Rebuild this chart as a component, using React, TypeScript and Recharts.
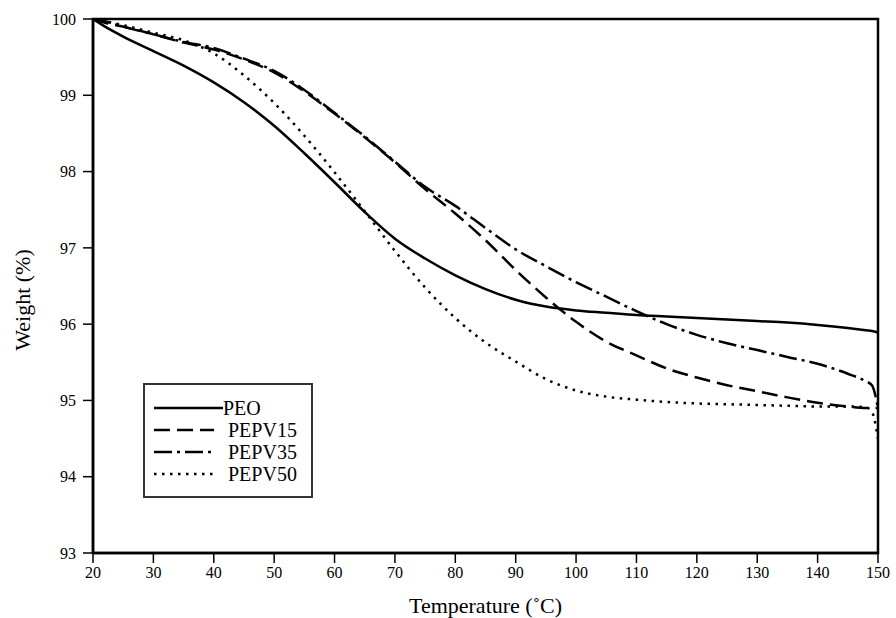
import React from 'react';
import { LineChart, Line, XAxis, YAxis, ReferenceArea, Legend } from 'recharts';

const temperatures = [20, 22, 25, 30, 35, 40, 45, 50, 55, 60, 65, 70, 75, 80, 85, 90, 95, 100, 105, 110, 115, 120, 125, 130, 135, 140, 145, 148, 149, 150];

const peo = [100, 99.9, 99.77, 99.58, 99.39, 99.17, 98.91, 98.6, 98.24, 97.86, 97.47, 97.12, 96.86, 96.64, 96.46, 96.32, 96.23, 96.18, 96.15, 96.12, 96.1, 96.08, 96.06, 96.04, 96.02, 95.99, 95.95, 95.92, 95.91, 95.89];
const pepv15 = [100, 99.95, 99.9, 99.8, 99.69, 99.6, 99.47, 99.3, 99.05, 98.76, 98.45, 98.12, 97.77, 97.45, 97.1, 96.71, 96.35, 96.03, 95.77, 95.59, 95.42, 95.3, 95.2, 95.12, 95.04, 94.97, 94.92, 94.9, 94.9, 94.9];
const pepv35 = [100, 99.97, 99.9, 99.8, 99.7, 99.62, 99.48, 99.32, 99.07, 98.77, 98.46, 98.13, 97.8, 97.55, 97.26, 96.98, 96.76, 96.55, 96.36, 96.17, 96.0, 95.86, 95.75, 95.66, 95.57, 95.48, 95.35, 95.25, 95.2, 94.9];
const pepv50 = [100, 99.97, 99.92, 99.82, 99.72, 99.55, 99.26, 98.9, 98.47, 97.99, 97.48, 96.96, 96.48, 96.08, 95.76, 95.51, 95.28, 95.13, 95.05, 95.01, 94.98, 94.96, 94.95, 94.94, 94.93, 94.92, 94.92, 94.91, 94.85, 94.5];

const seriesNames = ['PEO', 'PEPV15', 'PEPV35', 'PEPV50'];
const seriesValues = [peo, pepv15, pepv35, pepv50];
const dashPatterns = ['', '16 7', '18 5 3 5', '2.5 5.5'];

const xTicks = [20, 30, 40, 50, 60, 70, 80, 90, 100, 110, 120, 130, 140, 150];
const yTicks = [93, 94, 95, 96, 97, 98, 99, 100];

const xLabel = 'Temperature (\u02DAC)';
const yLabel = 'Weight (%)';

const data = temperatures.map((t, i) => {
  const row: Record<string, number> = { t };
  seriesNames.forEach((n, k) => {
    row[n] = seriesValues[k][i];
  });
  return row;
});

const FONT = '"Liberation Serif", "Times New Roman", serif';

const renderLegend = () => (
  <div
    style={{
      width: 170,
      height: 115,
      border: '2px solid #333',
      boxSizing: 'border-box',
      background: '#fff',
      fontFamily: FONT,
      fontSize: 20,
      color: '#000',
      paddingTop: 12,
      paddingLeft: 9,
    }}
  >
    {seriesNames.map((name, i) => (
      <div key={name} style={{ display: 'flex', alignItems: 'center', height: 22, lineHeight: '22px' }}>
        <svg width={i === 0 ? 69 : 60} height={6} style={{ display: 'block' }}>
          <line
            x1={0}
            x2={i === 0 ? 69 : 60}
            y1={3}
            y2={3}
            stroke="#000"
            strokeWidth={2.5}
            strokeDasharray={dashPatterns[i] || undefined}
          />
        </svg>
        <span style={{ marginLeft: i === 0 ? 0 : 14 }}>{name}</span>
      </div>
    ))}
  </div>
);

const YLabel = () => (
  <text
    x={0}
    y={0}
    transform="translate(30, 300) rotate(-90)"
    textAnchor="middle"
    fontFamily={FONT}
    fontSize={22}
    fill="#000"
  >
    {yLabel}
  </text>
);

export default function App() {
  return (
    <div style={{ position: 'absolute', left: 0, top: 0, background: '#fff' }}>
      <LineChart width={896} height={618} data={data} margin={{ top: 19, right: 18, bottom: 0, left: 0 }}>
        <XAxis
          dataKey="t"
          type="number"
          domain={[20, 150]}
          ticks={xTicks}
          allowDataOverflow
          height={65}
          stroke="#000"
          strokeWidth={2.5}
          tickSize={10}
          tickMargin={4}
          tick={{ fill: '#000', fontSize: 16, fontFamily: FONT }}
          tickLine={{ stroke: '#000', strokeWidth: 1.5 }}
          label={{ value: xLabel, position: 'insideBottom', offset: 5, fill: '#000', fontSize: 22, fontFamily: FONT }}
        />
        <YAxis
          type="number"
          domain={[93, 100]}
          ticks={yTicks}
          allowDataOverflow
          width={93}
          stroke="#000"
          strokeWidth={2.5}
          tickSize={10}
          tickMargin={7}
          tick={{ fill: '#000', fontSize: 16, fontFamily: FONT }}
          tickLine={{ stroke: '#000', strokeWidth: 1.5 }}
          label={{ content: () => <YLabel /> }}
        />
        <ReferenceArea x1={20} x2={150} y1={93} y2={100} fill="none" stroke="#000" strokeWidth={2.5} />
        {seriesNames.map((n, i) => (
          <Line
            key={n}
            dataKey={n}
            name={n}
            type="monotone"
            stroke="#000"
            strokeWidth={2.5}
            strokeDasharray={dashPatterns[i] || undefined}
            dot={false}
            activeDot={false}
            isAnimationActive={false}
          />
        ))}
        <Legend
          layout="vertical"
          align="center"
          verticalAlign="middle"
          content={renderLegend}
          wrapperStyle={{ left: 143, top: 383, width: 170 }}
        />
      </LineChart>
    </div>
  );
}
